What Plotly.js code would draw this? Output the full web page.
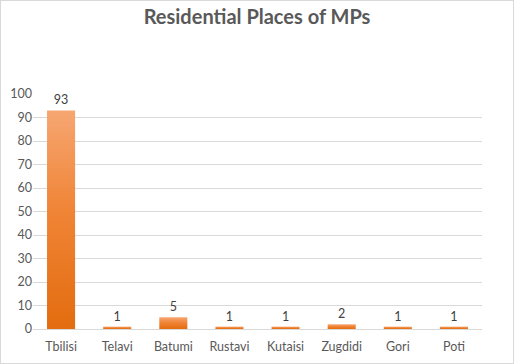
<!DOCTYPE html>
<html><head><meta charset="utf-8">
<script src="https://cdn.plot.ly/plotly-3.0.1.min.js"></script>
<style>
html,body{margin:0;padding:0;background:#fff;}
#chart{width:512px;height:362px;border:1px solid #d9d9d9;}
</style></head>
<body><div id="chart"></div>
<script>
const categories = ["Tbilisi","Telavi","Batumi","Rustavi","Kutaisi","Zugdidi","Gori","Poti"];
const mpCounts = [93, 1, 5, 1, 1, 2, 1, 1];
const yTicks = [0,10,20,30,40,50,60,70,80,90,100];

const trace = {
  type: 'bar',
  x: categories,
  y: mpCounts,
  text: mpCounts.map(String),
  textposition: 'outside',
  cliponaxis: false,
  textfont: {family: 'Lato, sans-serif', size: 12.5, color: '#404040'},
  marker: {color: '#ED7D31', line: {width: 0}},
  hoverinfo: 'x+y'
};

const layout = {
  width: 512, height: 362,
  margin: {l: 32, r: 31, t: 93, b: 34},
  paper_bgcolor: '#fff', plot_bgcolor: '#fff',
  bargap: 0.5,
  showlegend: false,
  title: {text: '<b>Residential Places of MPs</b>', x: 0.5, xanchor: 'center', y: 0.955, yanchor: 'middle',
          font: {family: 'Lato, sans-serif', size: 20, color: '#595959'}},
  xaxis: {type: 'category', showgrid: false, showline: true, linecolor: '#d9d9d9', linewidth: 1,
          ticks: '', ticklabelstandoff: 6,
          tickfont: {family: 'Lato, sans-serif', size: 12.5, color: '#595959'}, fixedrange: true},
  yaxis: {range: [0, 100], tickvals: yTicks, showgrid: true, gridcolor: '#d9d9d9', gridwidth: 1,
          zeroline: false, showline: false, ticks: '',
          tickfont: {family: 'Lato, sans-serif', size: 12.5, color: '#595959'}, fixedrange: true}
};

Plotly.newPlot('chart', [trace], layout, {displayModeBar: false, staticPlot: true}).then(function(gd){
  const svg = gd.querySelector('svg.main-svg');
  const ns = 'http://www.w3.org/2000/svg';
  let defs = svg.querySelector('defs');
  if (!defs) { defs = document.createElementNS(ns, 'defs'); svg.insertBefore(defs, svg.firstChild); }
  const g = document.createElementNS(ns, 'linearGradient');
  g.setAttribute('id', 'barGrad');
  g.setAttribute('x1', '0'); g.setAttribute('y1', '0'); g.setAttribute('x2', '0'); g.setAttribute('y2', '1');
  [['0', '#F6A672'], ['0.45', '#F08537'], ['1', '#E36C0F']].forEach(function(s){
    const st = document.createElementNS(ns, 'stop');
    st.setAttribute('offset', s[0]); st.setAttribute('stop-color', s[1]);
    g.appendChild(st);
  });
  defs.appendChild(g);
  gd.querySelectorAll('.bars .point path').forEach(function(p){
    p.style.fill = 'url(#barGrad)';
  });
});
</script></body></html>
